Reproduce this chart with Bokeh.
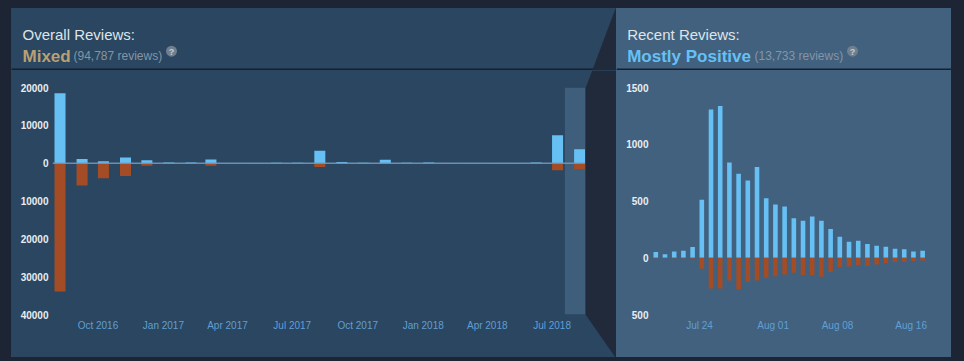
import pandas as pd
from bokeh.plotting import figure
from bokeh.layouts import row, column
from bokeh.models import (Range1d, FixedTicker, DatetimeTickFormatter, BoxAnnotation,
                          Span, ColumnDataSource)
from bokeh.core.properties import value
from bokeh.embed import file_html
from bokeh.resources import INLINE

# ---------------- data ----------------
overall_months = ["2016-08", "2016-09", "2016-10", "2016-11", "2016-12",
                  "2017-01", "2017-02", "2017-03", "2017-04", "2017-05", "2017-06",
                  "2017-07", "2017-08", "2017-09", "2017-10", "2017-11", "2017-12",
                  "2018-01", "2018-02", "2018-03", "2018-04", "2018-05", "2018-06",
                  "2018-07", "2018-08"]
overall_positive = [18500, 1100, 500, 1500, 800, 150, 150, 1000, 40, 40, 100, 100,
                    3250, 300, 100, 900, 100, 150, 60, 60, 50, 50, 200, 7400, 3700]
overall_negative = [33900, 5900, 4000, 3400, 700, 250, 250, 700, 30, 30, 150, 150,
                    1000, 100, 80, 100, 80, 100, 40, 40, 30, 30, 60, 1850, 1600]
overall_x_ticks = ["2016-10-01", "2017-01-01", "2017-04-01", "2017-07-01", "2017-10-01",
                   "2018-01-01", "2018-04-01", "2018-07-01"]
overall_y_ticks = [20000, 10000, 0, -10000, -20000, -30000, -40000]

recent_days = ["2018-07-19", "2018-07-20", "2018-07-21", "2018-07-22", "2018-07-23",
               "2018-07-24", "2018-07-25", "2018-07-26", "2018-07-27", "2018-07-28",
               "2018-07-29", "2018-07-30", "2018-07-31", "2018-08-01", "2018-08-02",
               "2018-08-03", "2018-08-04", "2018-08-05", "2018-08-06", "2018-08-07",
               "2018-08-08", "2018-08-09", "2018-08-10", "2018-08-11", "2018-08-12",
               "2018-08-13", "2018-08-14", "2018-08-15", "2018-08-16", "2018-08-17"]
recent_positive = [50, 30, 55, 62, 95, 510, 1307, 1336, 840, 740, 680, 800, 525, 469, 451,
                   348, 327, 363, 327, 254, 186, 142, 150, 121, 106, 97, 80, 74, 56, 62]
recent_negative = [4, 3, 4, 5, 6, 97, 271, 271, 200, 280, 212, 200, 177, 162, 147,
                   133, 153, 156, 168, 124, 83, 77, 65, 71, 59, 47, 38, 38, 30, 24]
recent_x_ticks = ["2018-07-24", "2018-08-01", "2018-08-08", "2018-08-16"]
recent_y_ticks = [1500, 1000, 500, 0, -500]

overall_title = "Overall Reviews:"
overall_rating = "Mixed"
overall_count = "(94,787 reviews)"
recent_title = "Recent Reviews:"
recent_rating = "Mostly Positive"
recent_count = "(13,733 reviews)"

# ---------------- style ----------------
PAGE_BG = "#1d2534"
LEFT_BG = "#2a4660"
RIGHT_BG = "#41617f"
STRIP = "#3f5e7b"
WEDGE = "#212a3a"
SEP = "#17202c"
POS = "#66c0f4"
NEG = "#a34c25"
FONT = "Liberation Sans"
HEAD_H = 62
CHART_H = 287
DAY = pd.Timedelta(days=1)


def ts(s):
    return pd.Timestamp(s)


def pixel_fig(width, height, bg):
    """A figure whose data space is mapped 1:1 to pixels (y downward)."""
    p = figure(width=width, height=height, x_range=Range1d(0, width),
               y_range=Range1d(height, 0), title=None,
               x_axis_location=None, y_axis_location=None,
               output_backend="svg", toolbar_location=None,
               min_border=0, min_border_left=0, min_border_right=0,
               min_border_top=0, min_border_bottom=0, frame_align=False)
    p.background_fill_alpha = 0
    p.border_fill_alpha = 0
    p.styles = {"background-color": bg}
    p.outline_line_color = None
    p.grid.visible = False
    return p


def chart_fig(width, xr, yr, bl, br, bg):
    p = figure(width=width, height=CHART_H, x_axis_type="datetime", title=None,
               x_range=Range1d(*xr), y_range=Range1d(*yr),
               output_backend="svg", toolbar_location=None,
               min_border_left=bl, min_border_right=br,
               min_border_top=17, min_border_bottom=43, frame_align=False)
    p.background_fill_alpha = 0
    p.border_fill_alpha = 0
    p.styles = {"background-color": bg}
    p.outline_line_color = None
    p.grid.visible = False
    for ax in (p.xaxis[0], p.yaxis[0]):
        ax.axis_line_color = None
        ax.major_tick_line_color = None
        ax.minor_tick_line_color = None
        ax.major_tick_in = 0
        ax.major_tick_out = 0
        ax.minor_tick_in = 0
        ax.minor_tick_out = 0
        ax.major_label_text_font = FONT
        ax.major_label_text_font_size = "10px"
    p.xaxis.major_label_text_color = "#619fd3"
    p.xaxis.major_label_standoff = 5
    p.yaxis.major_label_text_color = "#e9edf0"
    p.yaxis.major_label_text_font_style = "bold"
    return p


def header(p, width, title, rating, rating_color, count, tx, count_x, q_x):
    p.quad(left=[0], right=[width], top=[HEAD_H - 2], bottom=[HEAD_H],
           fill_color=SEP, line_color=None)
    p.text(x=[tx], y=[26], text=[title], text_font=value(FONT),
           text_font_size=value("15px"), text_color="#dfe4e8",
           text_baseline="alphabetic")
    p.text(x=[tx], y=[47.5], text=[rating], text_font=value(FONT),
           text_font_size=value("17px"), text_font_style="bold",
           text_color=rating_color, text_baseline="alphabetic")
    p.text(x=[count_x], y=[47.5], text=[count], text_font=value(FONT),
           text_font_size=value("12px"), text_color="#8495a6",
           text_baseline="alphabetic")
    p.scatter(x=[q_x], y=[42.7], size=11, marker="circle",
              fill_color="#6f7f8f", line_color=None)
    p.text(x=[q_x], y=[43.2], text=["?"], text_font=value(FONT),
           text_font_size=value("9px"), text_font_style="bold",
           text_color="#c5ced6", text_align="center", text_baseline="middle")


# ---------------- overall (left) ----------------
LW = 605          # whole left panel width
LCW = 574         # chart part (up to the highlight strip's right edge)
WW = LW - LCW     # wedge part

left_head = pixel_fig(LW, HEAD_H, LEFT_BG)
header(left_head, LW, overall_title, overall_rating, "#b9a074", overall_count, 11, 62, 160)
left_head.patch(x=[604, 605, 605, 580.75], y=[0, 0, HEAD_H, HEAD_H],
                fill_color=WEDGE, line_color=None)

left = chart_fig(LCW, (ts("2016-07-29 04:30"), ts("2018-08-17")), (-40000, 20000), 41, 0, LEFT_BG)
mstart = [ts(m + "-01") for m in overall_months]
lsrc = ColumnDataSource(dict(
    x=[m + 7.75 * DAY for m in mstart],
    pos=overall_positive,
    neg=[-v for v in overall_negative],
))
left.add_layout(BoxAnnotation(left=ts("2018-07-19"), fill_color=STRIP, fill_alpha=1,
                              line_color=None, level="underlay"))
left.vbar(x="x", width=15.5 * DAY, top="pos", bottom=0, source=lsrc,
          fill_color=POS, line_color=None)
left.vbar(x="x", width=15.5 * DAY, top=0, bottom="neg", source=lsrc,
          fill_color=NEG, line_color=None)
left.add_layout(Span(location=0, dimension="width", line_color="#6f98bb",
                     line_width=1.5, line_alpha=0.9))
left.xaxis.ticker = FixedTicker(ticks=[ts(t).value // 10**6 for t in overall_x_ticks])
left.xaxis.formatter = DatetimeTickFormatter(days="%b %Y", months="%b %Y", years="%b %Y",
                                             strip_leading_zeros=False)
left.yaxis.ticker = FixedTicker(ticks=overall_y_ticks)
left.yaxis.major_label_overrides = {t: str(abs(t)) for t in overall_y_ticks}
left.yaxis.major_label_standoff = 4

wedge = pixel_fig(WW, CHART_H, LEFT_BG)
wedge.patch(x=[6.75, WW, WW, WW - 1, 0, 0], y=[0, 0, CHART_H, CHART_H, 244, 18],
            fill_color=WEDGE, line_color=None)

left_panel = column(left_head, row(left, wedge, spacing=0), spacing=0)

# ---------------- recent (right) ----------------
RW = 335
right_head = pixel_fig(RW, HEAD_H, RIGHT_BG)
header(right_head, RW, recent_title, recent_rating, "#66c0f4", recent_count, 10.7, 138, 236)

right = chart_fig(RW, (ts("2018-07-18 18:47"), ts("2018-08-18 02:30")), (-500, 1500), 35, 21, RIGHT_BG)
dstart = [ts(d) for d in recent_days]
rsrc = ColumnDataSource(dict(
    x=[d + 0.25 * DAY for d in dstart],
    pos=recent_positive,
    neg=[-v for v in recent_negative],
))
right.vbar(x="x", width=0.5 * DAY, top="pos", bottom=0, source=rsrc,
           fill_color=POS, line_color=None)
right.vbar(x="x", width=0.5 * DAY, top=0, bottom="neg", source=rsrc,
           fill_color=NEG, line_color=None)
right.xaxis.ticker = FixedTicker(ticks=[ts(t).value // 10**6 for t in recent_x_ticks])
right.xaxis.formatter = DatetimeTickFormatter(hours="%b %d", days="%b %d", months="%b %d",
                                              strip_leading_zeros=False)
right.yaxis.ticker = FixedTicker(ticks=recent_y_ticks)
right.yaxis.major_label_overrides = {t: str(abs(t)) for t in recent_y_ticks}
right.yaxis.major_label_standoff = 3

right_panel = column(right_head, right, spacing=0)

layout = row(left_panel, right_panel, spacing=0)
html = file_html(layout, INLINE)
html = html.replace("</head>",
                    "<style>body{background:%s !important;padding:8px 0 0 11px !important;}</style></head>"
                    % PAGE_BG)
open("out.html", "w").write(html)
